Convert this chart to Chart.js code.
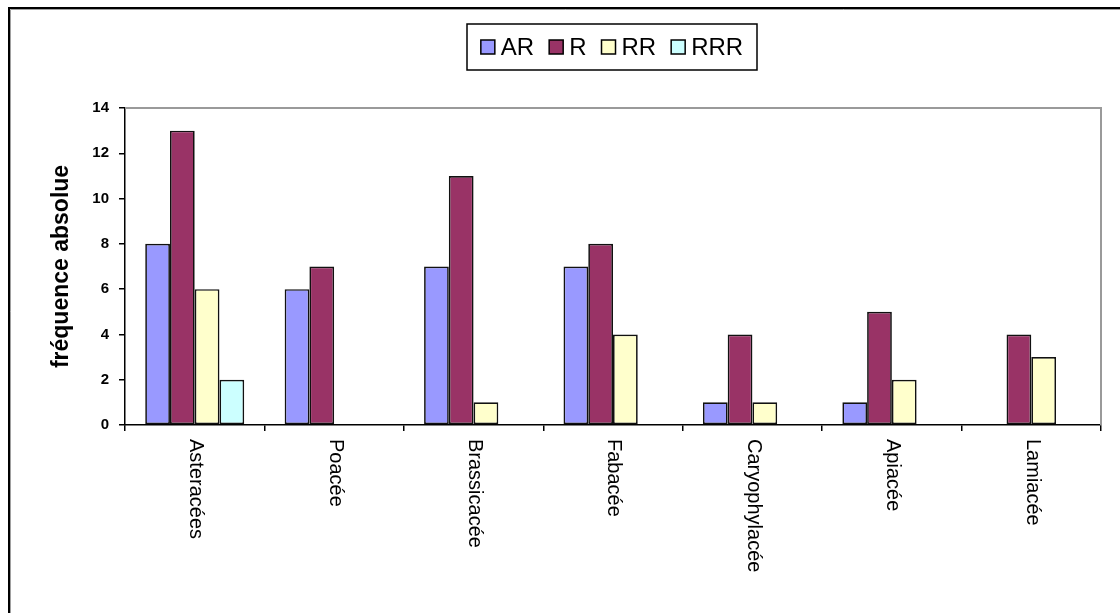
<!DOCTYPE html>
<html>
<head>
<meta charset="utf-8">
<script src="https://cdn.jsdelivr.net/npm/chart.js@4.4.1/dist/chart.umd.min.js"></script>
<style>
  html, body { margin: 0; padding: 0; background: #fff; }
  #wrap { width: 1120px; height: 613px; position: relative; }
</style>
</head>
<body>
<div id="wrap"><canvas id="c" width="1120" height="613"></canvas></div>
<script>
// Plant families and the counts per rarity class
const families = ['Asteracées', 'Poacée', 'Brassicacée', 'Fabacée', 'Caryophylacée', 'Apiacée', 'Lamiacée'];
const seriesNames = ['AR', 'R', 'RR', 'RRR'];
const valuesAR  = [8, 6, 7, 7, 1, 1, 0];
const valuesR   = [13, 7, 11, 8, 4, 5, 4];
const valuesRR  = [6, 0, 1, 4, 1, 2, 3];
const valuesRRR = [2, 0, 0, 0, 0, 0, 0];
const yTicks = [0, 2, 4, 6, 8, 10, 12, 14];
const yTitle = 'fréquence absolue';

const colors = ['#9999FF', '#993366', '#FFFFCC', '#CCFFFF'];
const seriesValues = [valuesAR, valuesR, valuesRR, valuesRRR];

const FONT = '"Liberation Sans", Arial, sans-serif';

const datasets = seriesNames.map((name, i) => ({
  label: name,
  data: seriesValues[i],
  backgroundColor: colors[i],
  borderColor: '#111',
  borderWidth: ctx => (ctx.raw ? 1.7 : 0),
  borderSkipped: false,
  barPercentage: 1.0,
  categoryPercentage: 0.71
}));

// Frame, plot border, legend, rotated category labels and axis title
const decorations = {
  id: 'decorations',
  beforeDraw(chart) {
    const ctx = chart.ctx;
    ctx.save();
    ctx.fillStyle = '#fff';
    ctx.fillRect(0, 0, chart.width, chart.height);
    // outer chart frame (runs past the right and bottom edges)
    ctx.strokeStyle = '#000';
    ctx.lineWidth = 2;
    ctx.beginPath();
    ctx.moveTo(9, chart.height + 5);
    ctx.lineTo(9, 8);
    ctx.lineTo(chart.width + 5, 8);
    ctx.stroke();
    ctx.strokeStyle = '#a0a0a0';
    ctx.lineWidth = 1;
    ctx.beginPath();
    ctx.moveTo(10.5, chart.height + 5);
    ctx.lineTo(10.5, 9.5);
    ctx.lineTo(chart.width + 5, 9.5);
    ctx.stroke();
    ctx.restore();
  },
  beforeDatasetsDraw(chart) {
    const ctx = chart.ctx;
    const a = chart.chartArea;
    ctx.save();
    ctx.strokeStyle = '#9a9a9a';
    ctx.lineWidth = 2;
    ctx.beginPath();
    ctx.moveTo(a.left, a.top);
    ctx.lineTo(a.right, a.top);
    ctx.lineTo(a.right, a.bottom);
    ctx.stroke();
    ctx.restore();
  },
  afterDraw(chart) {
    const ctx = chart.ctx;
    const a = chart.chartArea;
    const xs = chart.scales.x;
    ctx.save();

    // category labels, rotated clockwise, reading downwards
    ctx.fillStyle = '#000';
    ctx.font = '20px ' + FONT;
    ctx.textAlign = 'left';
    ctx.textBaseline = 'middle';
    chart.data.labels.forEach((lab, i) => {
      const x = xs.getPixelForTick(i);
      ctx.save();
      ctx.translate(x + 1, a.bottom + 14);
      ctx.rotate(Math.PI / 2);
      ctx.fillText(lab, 0, 0);
      ctx.restore();
    });

    // y axis title
    ctx.save();
    ctx.font = 'bold 23px ' + FONT;
    ctx.textAlign = 'center';
    ctx.textBaseline = 'middle';
    ctx.translate(62, (a.top + a.bottom) / 2);
    ctx.rotate(-Math.PI / 2);
    ctx.fillText(yTitle, 0, 0);
    ctx.restore();

    // legend box
    const box = { l: 467, t: 24, r: 757, b: 70 };
    ctx.strokeStyle = '#000';
    ctx.lineWidth = 1.5;
    ctx.strokeRect(box.l, box.t, box.r - box.l, box.b - box.t);
    ctx.font = '24px ' + FONT;
    const mk = 14, gapText = 6, gapItem = 15;
    const items = chart.data.datasets.map(d => ({ label: d.label, color: d.backgroundColor, w: ctx.measureText(d.label).width }));
    let total = items.reduce((s, it) => s + mk + gapText + it.w, 0) + gapItem * (items.length - 1);
    let x = box.l + (box.r - box.l - total) / 2;
    const cy = (box.t + box.b) / 2;
    items.forEach(it => {
      ctx.fillStyle = it.color;
      ctx.fillRect(x, cy - mk / 2, mk, mk);
      ctx.lineWidth = 1.5;
      ctx.strokeStyle = '#000';
      ctx.strokeRect(x, cy - mk / 2, mk, mk);
      ctx.fillStyle = '#000';
      ctx.textAlign = 'left';
      ctx.textBaseline = 'middle';
      ctx.fillText(it.label, x + mk + gapText, cy + 1);
      x += mk + gapText + it.w + gapItem;
    });
    ctx.restore();
  }
};

new Chart(document.getElementById('c'), {
  type: 'bar',
  data: { labels: families, datasets },
  options: {
    responsive: false,
    animation: false,
    events: [],
    layout: { padding: { top: 108, right: 19, left: 0, bottom: 0 } },
    plugins: {
      legend: { display: false },
      tooltip: { enabled: false },
      title: { display: false }
    },
    scales: {
      x: {
        grid: { offset: true, drawOnChartArea: false, drawTicks: true, tickLength: 6, color: '#000', lineWidth: 1.5 },
        border: { display: true, color: '#000', width: 1.5 },
        ticks: { display: false },
        afterFit(scale) { scale.height = 613 - 425; }
      },
      y: {
        min: 0,
        max: 14,
        afterBuildTicks(scale) { scale.ticks = yTicks.map(v => ({ value: v })); },
        grid: { drawOnChartArea: false, drawTicks: true, tickLength: 6, color: '#000', lineWidth: 1.5 },
        border: { display: true, color: '#000', width: 1.5 },
        ticks: { color: '#000', font: { family: FONT, size: 15, weight: 'bold' }, padding: 10 },
        afterFit(scale) { scale.width = 125; }
      }
    }
  },
  plugins: [decorations]
});
</script>
</body>
</html>
